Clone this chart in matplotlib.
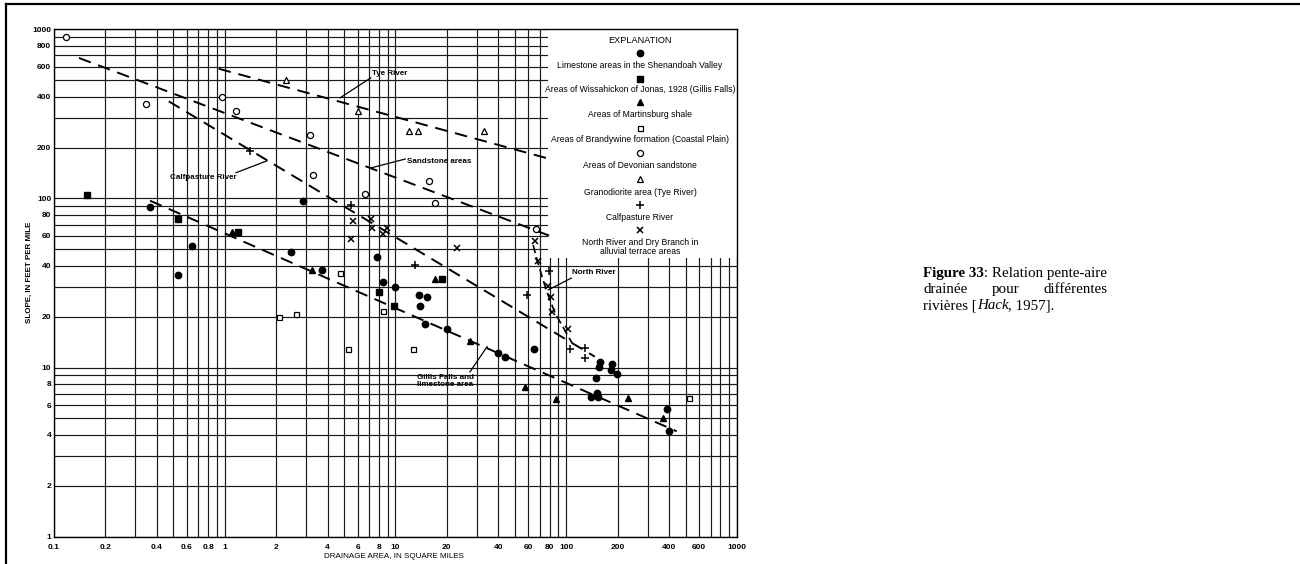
import matplotlib
matplotlib.use("Agg")
import matplotlib.pyplot as plt
from matplotlib.ticker import FixedLocator, FixedFormatter, NullFormatter
from matplotlib.patches import Rectangle

# drainage area (sq mi) and slope (ft per mile)
limestone_area = [0.365, 0.64, 0.53, 2.43, 2.88, 3.73, 7.8, 8.4, 10, 13.8, 15.2, 13.9, 14.9, 20,
                  40, 44, 65, 158, 156, 185, 182, 197, 149, 152, 154, 139, 387, 400]
limestone_slope = [89, 52, 35.5, 48, 96, 37.5, 45, 32, 30, 27, 26, 23, 18, 17,
                   12.2, 11.6, 12.8, 10.8, 10.1, 10.5, 9.7, 9.1, 8.7, 7.1, 6.7, 6.7, 5.7, 4.2]

wissahickon_area = [0.157, 0.535, 1.19, 8.0, 9.8, 18.8]
wissahickon_slope = [105, 76, 63, 28, 23, 33.5]

martinsburg_area = [1.10, 3.24, 17.1, 27.3, 57, 87, 231, 367]
martinsburg_slope = [63, 37.5, 33.5, 14.3, 7.7, 6.5, 6.6, 5.0]

brandywine_area = [2.07, 2.6, 4.7, 5.3, 8.4, 12.7, 526]
brandywine_slope = [20, 20.7, 36, 12.9, 21.6, 12.9, 6.6]

devonian_area = [0.117, 0.344, 0.97, 1.17, 3.16, 3.3, 6.65, 15.7, 17, 66.5]
devonian_slope = [900, 360, 400, 330, 237, 137, 106, 127, 94, 66]

granodiorite_area = [2.28, 6.0, 12, 13.5, 33]
granodiorite_slope = [500, 330, 249, 249, 249]

calfpasture_area = [1.41, 5.5, 13, 58.7, 79, 105, 129, 129]
calfpasture_slope = [190, 92, 40.5, 27, 37, 12.9, 13, 11.4]

northriver_area = [5.6, 5.5, 7.2, 7.3, 8.5, 8.9, 23, 65.6, 68, 78, 81, 83, 103]
northriver_slope = [74, 57.5, 75.5, 67, 62, 67, 51, 55.7, 42.6, 30.4, 26.2, 21.2, 16.9]

# dashed trend lines
tye_area, tye_slope = [0.92, 77], [585, 173]
sandstone_area, sandstone_slope = [0.14, 84], [677, 59]
calfline_area, calfline_slope = [0.47, 147], [375, 11.6]
gillis_area, gillis_slope = [0.365, 443], [97, 4.2]
northline_area = [64, 68, 77, 86, 108]
northline_slope = [53, 42, 28, 21, 14]

x_ticks = [0.1, 0.2, 0.4, 0.6, 0.8, 1, 2, 4, 6, 8, 10, 20, 40, 60, 80, 100, 200, 400, 600, 1000]
x_labels = ["0.1", "0.2", "0.4", "0.6", "0.8", "1", "2", "4", "6", "8", "10", "20", "40", "60",
            "80", "100", "200", "400", "600", "1000"]
y_ticks = [1, 2, 4, 6, 8, 10, 20, 40, 60, 80, 100, 200, 400, 600, 800, 1000]
y_labels = [str(v) for v in y_ticks]

legend_labels = [
    "Limestone areas in the Shenandoah Valley",
    "Areas of Wissahickon of Jonas, 1928 (Gillis Falls)",
    "Areas of Martinsburg shale",
    "Areas of Brandywine formation (Coastal Plain)",
    "Areas of Devonian sandstone",
    "Granodiorite area (Tye River)",
    "Calfpasture River",
    "North River and Dry Branch in\nalluvial terrace areas",
]

styles = [
    dict(marker="o", ms=4.6, mfc="black", mec="black"),
    dict(marker="s", ms=3.8, mfc="black", mec="black"),
    dict(marker="^", ms=4.4, mfc="black", mec="black"),
    dict(marker="s", ms=3.6, mfc="white", mec="black", mew=0.9),
    dict(marker="o", ms=4.4, mfc="white", mec="black", mew=0.9),
    dict(marker="^", ms=4.2, mfc="white", mec="black", mew=0.9),
    dict(marker="+", ms=5.5, mec="black", mew=1.1),
    dict(marker="x", ms=3.8, mec="black", mew=1.1),
]
series = [
    (limestone_area, limestone_slope),
    (wissahickon_area, wissahickon_slope),
    (martinsburg_area, martinsburg_slope),
    (brandywine_area, brandywine_slope),
    (devonian_area, devonian_slope),
    (granodiorite_area, granodiorite_slope),
    (calfpasture_area, calfpasture_slope),
    (northriver_area, northriver_slope),
]

W, H = 1300, 564
fig = plt.figure(figsize=(13, 5.64), dpi=100)
fig.patch.set_facecolor("white")

# axes placed like the scan: x 0.1 at px 54, 1000 at px 737; y 1 at px 537, 1000 at px 29
ax = fig.add_axes([54 / W, 1 - 536.7 / H, 683 / W, 507.4 / H])
ax.set_xscale("log")
ax.set_yscale("log")
ax.set_xlim(0.1, 1000)
ax.set_ylim(1, 1000)

grid_x = [m * 10.0 ** e for e in range(-1, 3) for m in range(1, 10)] + [1000]
grid_y = [m * 10.0 ** e for e in range(0, 3) for m in range(1, 10)] + [1000]
ax.xaxis.set_major_locator(FixedLocator(x_ticks))
ax.xaxis.set_major_formatter(FixedFormatter(x_labels))
ax.xaxis.set_minor_locator(FixedLocator(grid_x))
ax.xaxis.set_minor_formatter(NullFormatter())
ax.yaxis.set_major_locator(FixedLocator(y_ticks))
ax.yaxis.set_major_formatter(FixedFormatter(y_labels))
ax.yaxis.set_minor_locator(FixedLocator(grid_y))
ax.yaxis.set_minor_formatter(NullFormatter())
ax.grid(True, which="both", color="#1a1a1a", lw=0.85)
ax.set_axisbelow(True)
ax.tick_params(which="both", length=0)
ax.tick_params(axis="x", pad=5)
ax.tick_params(axis="y", pad=2)
for lab in ax.get_xticklabels() + ax.get_yticklabels():
    lab.set_fontsize(6)
    lab.set_fontweight("bold")
    lab.set_family("Liberation Sans")
for sp in ax.spines.values():
    sp.set_color("black")
    sp.set_linewidth(1.0)

# white explanation box over the grid
ax.add_patch(Rectangle((0.724, 0.549), 0.276, 0.451, transform=ax.transAxes,
                       facecolor="white", edgecolor="none", zorder=1.5))

dash = dict(color="black", lw=1.4, dashes=(6.5, 4), zorder=2.5)
ax.plot(tye_area, tye_slope, **dash)
ax.plot(sandstone_area, sandstone_slope, **dash)
ax.plot(calfline_area, calfline_slope, **dash)
ax.plot(gillis_area, gillis_slope, **dash)
ax.plot(northline_area, northline_slope, color="black", lw=1.2, dashes=(5, 2.5), zorder=2.5)

for (xs, ys), st in zip(series, styles):
    ax.plot(xs, ys, ls="none", zorder=3, **st)

# line annotations
ann = dict(fontsize=5.8, fontweight="bold", family="Liberation Sans", zorder=4)
leader = dict(color="black", lw=0.9, zorder=4)
ax.text(7.3, 547, "Tye River", ha="left", va="center", **ann)
ax.plot([7.16, 4.73], [516, 393], **leader)
ax.text(11.6, 165, "Sandstone areas", ha="left", va="center", **ann)
ax.plot([11.4, 7.09], [171, 151], **leader)
ax.text(0.478, 133, "Calfpasture River", ha="left", va="center", **ann)
ax.plot([1.165, 1.77], [142, 167], **leader)
ax.text(108, 36.3, "North River", ha="left", va="center", **ann)
ax.plot([107, 78.5], [33.8, 28.8], **leader)
ax.text(19.5, 8.3, "Gillis Falls and\nlimestone area", ha="center", va="center",
        linespacing=0.95, **ann)
ax.plot([27.3, 34.4], [9.43, 13.3], **leader)

# explanation contents, positioned in axes fraction
def ay(py):
    return (536.7 - py) / 507.4

lx = 0.858
lt = dict(fontsize=6.2, family="Liberation Sans", ha="center", va="center", zorder=4,
          transform=ax.transAxes)
ax.text(lx, ay(40.7), "EXPLANATION", **dict(lt, fontsize=6.6))
marker_y = [53.3, 79, 102.3, 127.7, 153.3, 179, 205, 230]
label_y = [65.7, 90, 114.3, 140, 166, 192.7, 217.7, 247]
for my, tyy, lab, st in zip(marker_y, label_y, legend_labels, styles):
    ax.plot([lx], [ay(my)], ls="none", transform=ax.transAxes, zorder=4, clip_on=False, **st)
    ax.text(lx, ay(tyy), lab, linespacing=0.95, **lt)

# axis titles
fig.text(29 / W, 1 - 272 / H, "SLOPE, IN FEET PER MILE", rotation=90, ha="center", va="center",
         fontsize=5.8, fontweight="bold", family="Liberation Sans")
fig.text(394 / W, 1 - 557 / H, "DRAINAGE AREA, IN SQUARE MILES", ha="center", va="center",
         fontsize=5.8, family="Liberation Sans")

# page border of the scan
fig.add_artist(plt.Line2D([6 / W, 6 / W], [0, 1 - 4 / H], color="black", lw=1.6))
fig.add_artist(plt.Line2D([6 / W, 1], [1 - 4 / H, 1 - 4 / H], color="black", lw=1.6))

# caption, justified on the right at px 1108
cap = dict(fontsize=10.8, family="Liberation Serif", va="baseline")
x0, x1 = 923 / W, 1108 / W
t1 = fig.text(x0, 1 - 277 / H, "Figure 33", fontweight="bold", **cap)
ax.annotate(": Relation pente-aire", xy=(1, 0), xycoords=t1, va="bottom",
            fontsize=10.8, family="Liberation Serif", annotation_clip=False)
t_a = fig.text(x0, 1 - 293 / H, "drainée", ha="left", **cap)
t_c = fig.text(x1, 1 - 293 / H, "différentes", ha="right", **cap)
fig.canvas.draw()
r = fig.canvas.get_renderer()
ea = t_a.get_window_extent(r)
ec = t_c.get_window_extent(r)
fig.text((ea.x1 + ec.x0) / 2 / W, 1 - 293 / H, "pour", ha="center", **cap)
t3 = fig.text(x0, 1 - 309 / H, "rivières [", **cap)
t4 = ax.annotate("Hack", xy=(1, 0), xycoords=t3, va="bottom", style="italic",
                 fontsize=10.8, family="Liberation Serif", annotation_clip=False)
ax.annotate(", 1957].", xy=(1, 0), xycoords=t4, va="bottom",
            fontsize=10.8, family="Liberation Serif", annotation_clip=False)

fig.savefig("out.png", dpi=100, facecolor="white")
